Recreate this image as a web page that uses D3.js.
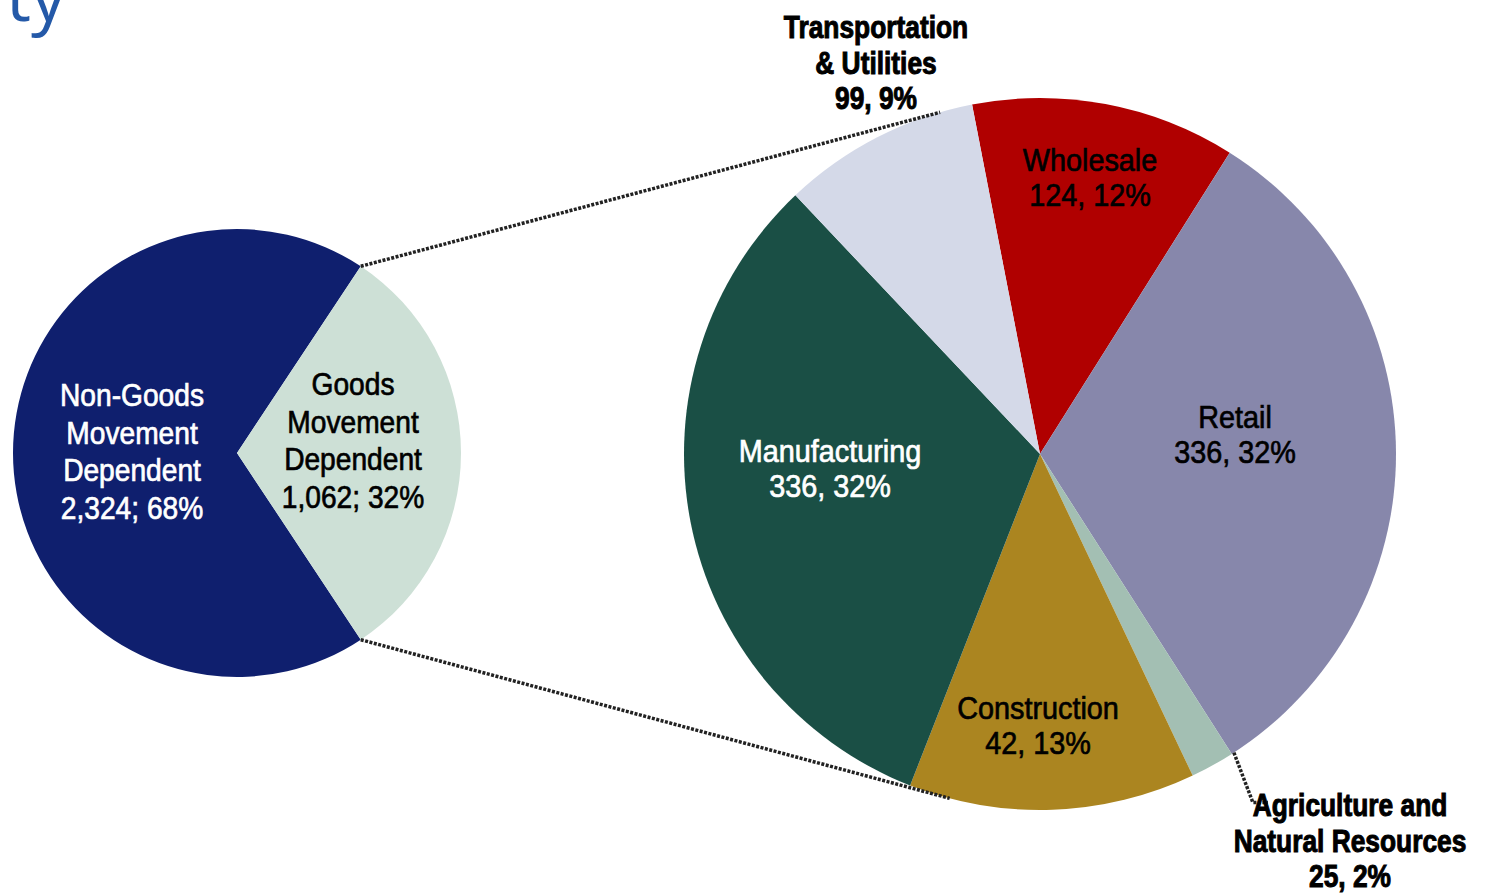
<!DOCTYPE html>
<html>
<head>
<meta charset="utf-8">
<script src="https://cdn.jsdelivr.net/npm/d3@7"></script>
<style>
  body { margin: 0; background: #fff; }
  svg { display: block; }
</style>
</head>
<body>
<div id="chart"></div>
<script>
// data
const leftCats = ["Non-Goods\nMovement\nDependent", "Goods\nMovement\nDependent"];
const leftValues = [2324, 1062];
const leftPct = [68, 32];

const rightCats = ["Wholesale", "Retail", "Agriculture and\nNatural Resources", "Construction", "Manufacturing", "Transportation\n& Utilities"];
const rightValues = [124, 336, 25, 42, 336, 99];
const rightPct = [12, 32, 2, 13, 32, 9];

const leftColors = ["#0f1f6e", "#cde0d6"];
const leftText = ["#fff", "#000"];
const rightColors = ["#b00000", "#8787ab", "#a3bfb3", "#ab8520", "#1a4f45", "#d4d9e8"];
const rightText = ["#000", "#000", "#000", "#000", "#fff", "#000"];

const width = 1485, height = 895;
const deg = Math.PI / 180;

let svg = d3.select("#chart").append("svg")
  .attr("width", width)
  .attr("height", height);

// partial title, cut off at the left edge
svg.append("text")
  .attr("x", 66).attr("y", 21)
  .attr("text-anchor", "end")
  .attr("font-family", "Open Sans, sans-serif")
  .attr("font-size", 70)
  .attr("fill", "#2459a8")
  .text("ty");

// left pie: goods slice centred on the right side
let L = { cx: 237, cy: 453, r: 224 };
let goodsShare = leftValues[1] / d3.sum(leftValues);
let leftPie = d3.pie().sort(null)
  .startAngle(Math.PI / 2 + goodsShare * Math.PI)
  .endAngle(Math.PI / 2 + goodsShare * Math.PI + 2 * Math.PI);
let leftArcs = leftPie(leftValues);
let leftArc = d3.arc().innerRadius(0).outerRadius(L.r);

let gL = svg.append("g").attr("transform", `translate(${L.cx},${L.cy})`);
gL.selectAll("path").data(leftArcs).enter().append("path")
  .attr("d", leftArc)
  .attr("fill", (d, i) => leftColors[i]);

// right pie
let R = { cx: 1040, cy: 454, r: 356 };
let rightPie = d3.pie().sort(null)
  .startAngle(-11 * deg)
  .endAngle(-11 * deg + 2 * Math.PI);
let rightArcs = rightPie(rightPct);
let rightArc = d3.arc().innerRadius(0).outerRadius(R.r);

let gR = svg.append("g").attr("transform", `translate(${R.cx},${R.cy})`);
gR.selectAll("path").data(rightArcs).enter().append("path")
  .attr("d", rightArc)
  .attr("fill", (d, i) => rightColors[i]);

function polar(c, r, a) {
  return [c.cx + r * Math.sin(a), c.cy - r * Math.cos(a)];
}

// connector lines from the goods slice to the right pie
let goods = leftArcs[1];
let p1 = polar(L, L.r, goods.startAngle);
let p2 = polar(L, L.r, goods.endAngle);
let q1 = polar(R, R.r, -16.3 * deg);
let q2 = polar(R, R.r, 194.7 * deg);
[[p1, q1], [p2, q2]].forEach(seg => {
  svg.append("line")
    .attr("x1", seg[0][0]).attr("y1", seg[0][1])
    .attr("x2", seg[1][0]).attr("y2", seg[1][1])
    .attr("stroke", "#222")
    .attr("stroke-width", 3.5)
    .attr("stroke-dasharray", "3,1.5");
});

// leader for the small agriculture slice
let agri = rightArcs[2];
let a0 = polar(R, R.r, (agri.startAngle + agri.endAngle) / 2 - 4 * deg);
svg.append("path")
  .attr("d", d3.line()([a0, [a0[0] + 19, a0[1] + 50], [a0[0] + 34, a0[1] + 50]]))
  .attr("fill", "none")
  .attr("stroke", "#222")
  .attr("stroke-width", 3.5)
  .attr("stroke-dasharray", "3,1.5");

// labels
function label(x, y, lines, fill, bold, lh, sx) {
  let g = svg.append("g")
    .attr("transform", `translate(${x},${y}) scale(${sx},1)`);
  let t = g.append("text")
    .attr("text-anchor", "middle")
    .attr("font-family", "Liberation Sans, Arial, sans-serif")
    .attr("font-size", bold ? 31 : 32)
    .attr("font-weight", bold ? "bold" : "normal")
    .attr("fill", fill)
    .attr("stroke", fill)
    .attr("stroke-width", bold ? 1 : 0.7);
  lines.forEach((s, i) => {
    t.append("tspan")
      .attr("x", 0)
      .attr("y", -(lines.length - 1) * lh / 2 + i * lh + 11.5)
      .text(s);
  });
}

const fmt = d3.format(",");
const leftLabelPos = [[132, 451], [353, 440]];
leftCats.forEach((c, i) => {
  let lines = c.split("\n").concat([fmt(leftValues[i]) + "; " + leftPct[i] + "%"]);
  label(leftLabelPos[i][0], leftLabelPos[i][1], lines, leftText[i], false, 37.5, 0.88);
});

// label offsets from the right pie centre
const rightLabelPos = [[50, -277], [195, -20], [310, 386], [-2, 271], [-210, 14], [-164, -392]];
rightCats.forEach((c, i) => {
  let lines = c.split("\n").concat([rightValues[i] + ", " + rightPct[i] + "%"]);
  let outside = i === 2 || i === 5;
  label(R.cx + rightLabelPos[i][0], R.cy + rightLabelPos[i][1], lines,
    rightText[i], outside, 36, outside ? 0.85 : 0.9);
});
</script>
</body>
</html>
